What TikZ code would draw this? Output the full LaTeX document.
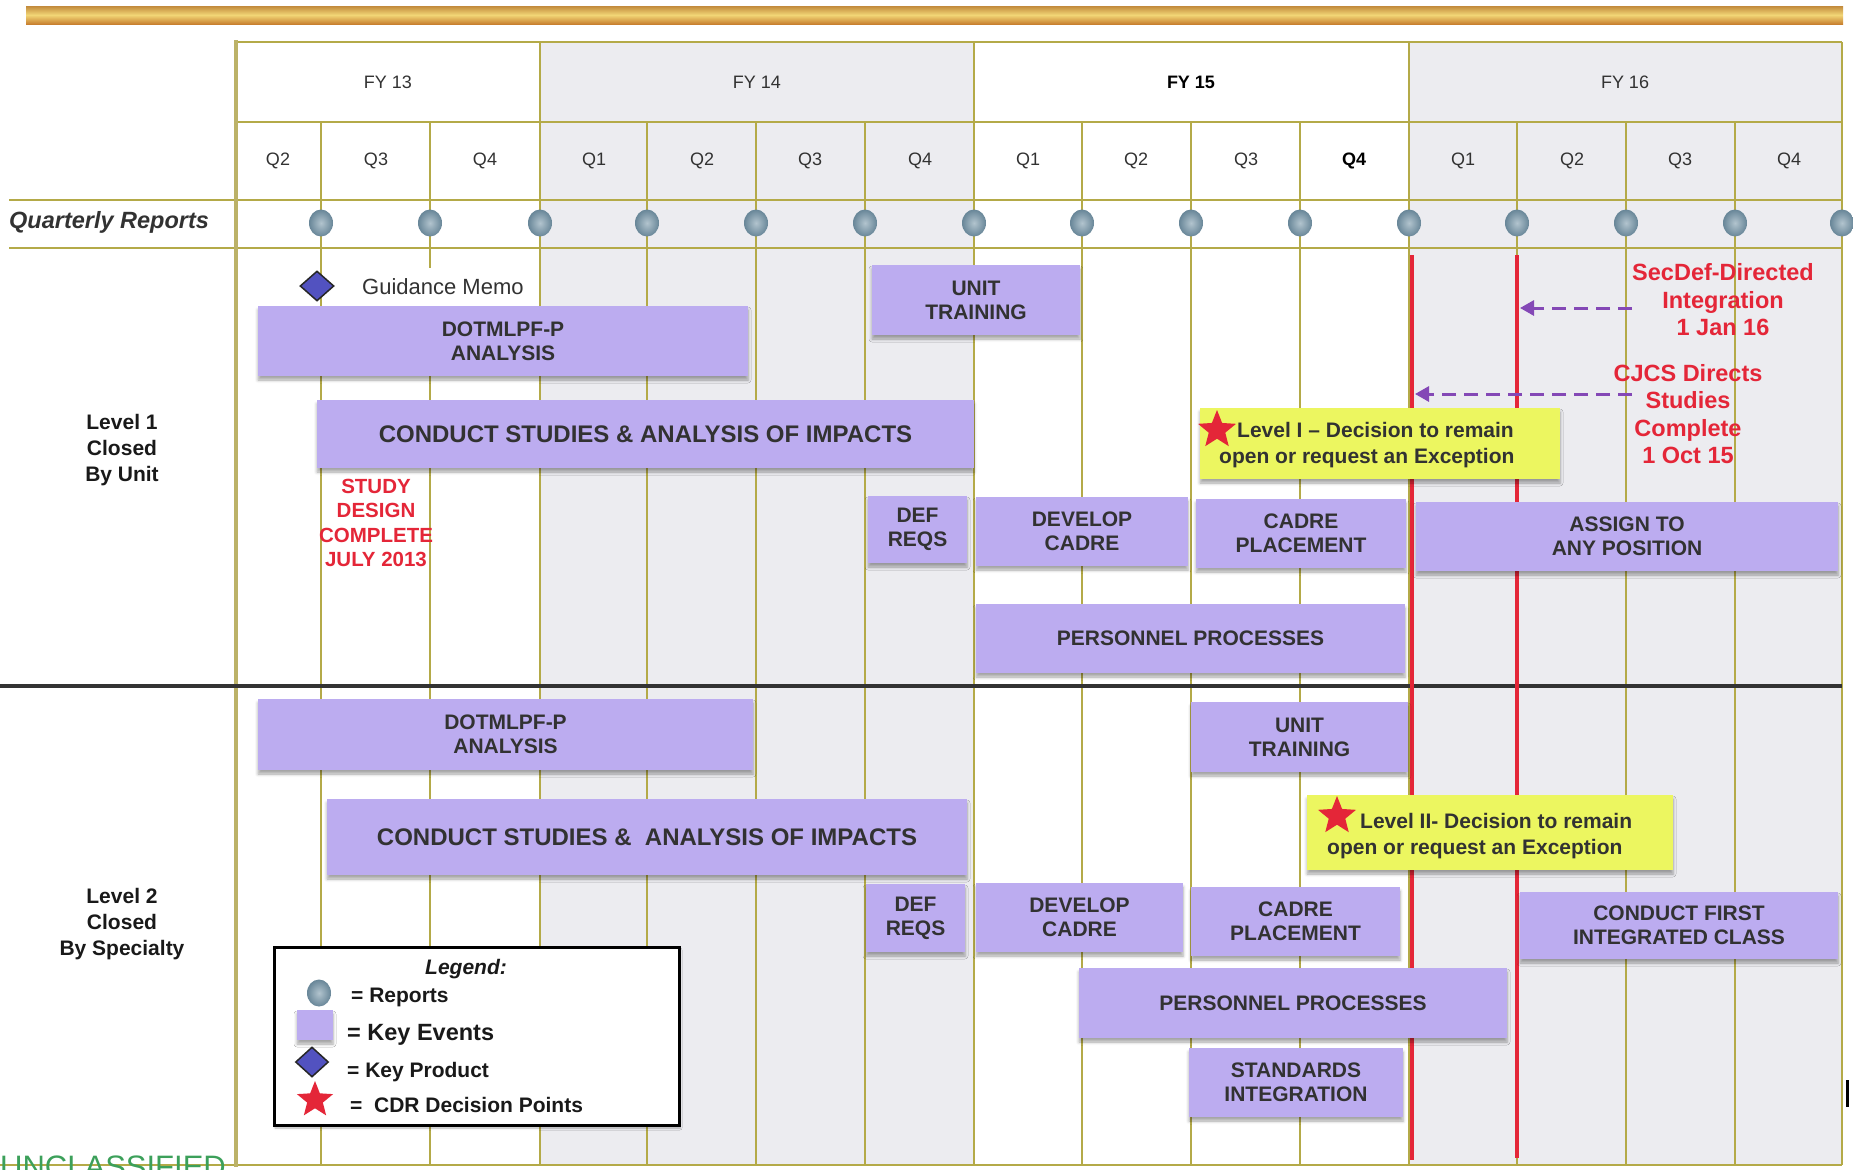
\documentclass[tikz,border=0pt]{standalone}
\usepackage{fontspec}
\setmainfont{Liberation Sans}
\usepackage{xcolor}
\usepackage{tikz}
\tikzset{every picture/.style={font issue=\fontsize{21}{24}},
         font issue/.style={execute at begin picture={#1\selectfont}}
        }
\usetikzlibrary{shadows.blur}
\usetikzlibrary{shapes.geometric}
\usetikzlibrary{arrows.meta}
\definecolor{lavender}{RGB}{188,172,240}
\definecolor{lime}{RGB}{236,246,96}
\definecolor{gridolive}{RGB}{180,170,72}
\definecolor{borderolive}{RGB}{188,178,104}
\definecolor{shadegray}{RGB}{236,236,240}
\definecolor{redline}{RGB}{228,38,56}
\definecolor{arrowpurple}{RGB}{132,72,182}
\definecolor{repinner}{RGB}{178,196,206}
\definecolor{repouter}{RGB}{104,134,152}
\definecolor{prodblue}{RGB}{82,82,192}
\definecolor{inktext}{RGB}{50,50,50}
\definecolor{greenmark}{RGB}{60,160,90}
\definecolor{goldtop}{RGB}{194,138,60}
\definecolor{goldmid}{RGB}{242,214,118}
\definecolor{goldbot}{RGB}{200,128,48}
\tikzstyle{event}=[fill=lavender,text=inktext,align=center,inner sep=0,font=\bfseries,
  blur shadow={shadow xshift=0pt,shadow yshift=-4pt,shadow blur radius=3pt,shadow opacity=35}]
\tikzstyle{decision}=[fill=lime,inner sep=0,
  blur shadow={shadow xshift=0pt,shadow yshift=-4pt,shadow blur radius=3pt,shadow opacity=35}]
\tikzstyle{dtext}=[text=inktext,align=left,inner sep=0,font=\fontsize{21}{26}\selectfont\bfseries]
\tikzstyle{cdr}=[star,star points=5,star point ratio=2.3,fill=redline,inner sep=0,minimum size=40pt]
\tikzstyle{product}=[diamond,fill=prodblue,draw=black!85,line width=1.5pt,inner sep=0,
  minimum width=34pt,minimum height=30pt]
\tikzstyle{report}=[ellipse,inner color=repinner,outer color=repouter,inner sep=0,
  minimum width=24pt,minimum height=27pt]
\tikzstyle{gridln}=[draw,gridolive,line width=2.2pt]
\tikzstyle{redln}=[draw,redline,line width=4pt]
\tikzstyle{pointer}=[>={Triangle[length=14pt,width=15pt]},draw,arrowpurple,line width=3pt,
  dash pattern=on 14pt off 8pt]
\tikzstyle{reddate}=[text=redline,align=center,inner sep=0,font=\fontsize{23.5}{27.5}\selectfont\bfseries]
\tikzstyle{level}=[text=black!90,align=center,inner sep=0,font=\fontsize{21}{26}\selectfont\bfseries]
\tikzstyle{head}=[text=inktext,inner sep=0,font=\fontsize{18}{20}\selectfont]
\tikzstyle{key}=[anchor=base west,text=black!90,inner sep=0,font=\bfseries]

\begin{document}
\begin{tikzpicture}[x=1pt,y=-1pt]
	\useasboundingbox (0,0) rectangle (1853,1170);
	\fill[shadegray] (540,42) rectangle (974,1165);
	\fill[shadegray] (1409,42) rectangle (1842,1165);
	\shade[top color=goldtop,bottom color=goldbot,middle color=goldmid] (26,6) rectangle (1843,24);
	
	% grid
	\path[gridln] (236,42) -- (1842,42);
	\path[gridln] (236,122) -- (1842,122);
	\path[gridln] (9,200) -- (1842,200);
	\path[gridln] (9,248) -- (1842,248);
	\path[gridln] (0,1165) -- (1842,1165);
	\foreach \x in {540,974,1409}
		\path[gridln] (\x,42) -- (\x,122);
	\foreach \x in {321,430,540,647,756,865,974,1082,1191,1300,1409,1517,1626,1735}
		\path[gridln] (\x,122) -- (\x,1165);
	\path[gridln,borderolive,line width=4.5pt] (236,40) -- (236,1167);
	\path[gridln] (1842,42) -- (1842,1165);
	
	\draw[black!80,line width=4.5pt] (0,686) -- (1842,686);
	\path[redln] (1412,255) -- (1412,1160);
	\path[redln] (1517,255) -- (1517,1158);
	
	\foreach \x [count=\i] in {321,430,540,647,756,865,974,1082,1191,1300,1409,1517,1626,1735,1842}
		\node[report] (rp\i) at (\x,223) {};
	
	% header
	\node[head] (fy13) at (388,82) {FY 13};
	\node[head] (fy14) at (757,82) {FY 14};
	\node[head,text=black,font=\fontsize{18}{20}\selectfont\bfseries] (fy15) at (1191,82) {FY 15};
	\node[head] (fy16) at (1625,82) {FY 16};
	\foreach \x/\q [count=\i] in {278/Q2,376/Q3,485/Q4,594/Q1,702/Q2,810/Q3,920/Q4,1028/Q1,
		1136/Q2,1246/Q3,1463/Q1,1572/Q2,1680/Q3,1789/Q4}
		\node[head] (q\i) at (\x,161) {\q};
	\node[head,text=black,font=\fontsize{18}{20}\selectfont\bfseries] (q15) at (1354,161) {Q4};
	
	\node[anchor=west,text=inktext,inner sep=0,font=\fontsize{23.5}{26}\selectfont\bfseries\itshape] (qr) at (9,222) {Quarterly Reports};
	\node[level] (lv1) at (122,450) {Level 1\\Closed\\By Unit};
	\node[level] (lv2) at (122,924) {Level 2\\Closed\\By Specialty};
	
	% level 1
	\node[product] (gd) at (317,286) {};
	\node[anchor=west,fill=white,minimum height=38pt,inner xsep=4pt,inner ysep=0,text=inktext,
		font=\fontsize{22}{24}\selectfont] (gm) at (358,287) {Guidance Memo};
	\node[event,minimum width=490pt,minimum height=70pt] (da1) at (503,341) {DOTMLPF-P\\ANALYSIS};
	\node[event,minimum width=208pt,minimum height=70pt] (ut1) at (976,300) {UNIT\\TRAINING};
	\node[event,minimum width=657pt,minimum height=68pt,font=\fontsize{24}{28}\selectfont\bfseries] (cs1) at (645.5,434) {CONDUCT STUDIES \& ANALYSIS OF IMPACTS};
	\node[event,minimum width=99pt,minimum height=67pt] (dr1) at (917.5,529.5) {DEF\\REQS};
	\node[event,minimum width=212pt,minimum height=69pt] (dc1) at (1082,531.5) {DEVELOP\\CADRE};
	\node[event,minimum width=210pt,minimum height=69pt] (cp1) at (1301,533.5) {CADRE\\PLACEMENT};
	\node[event,minimum width=422pt,minimum height=69pt] (ap1) at (1627,536.5) {ASSIGN TO\\ANY POSITION};
	\node[event,minimum width=429pt,minimum height=69pt] (pp1) at (1190.5,638.5) {PERSONNEL PROCESSES};
	\node[decision,minimum width=360pt,minimum height=71pt] (yl1) at (1380,443.5) {};
	\node[dtext,anchor=west] (yt1) at (1219,445) {\hspace*{18pt}Level I – Decision to remain\\open or request an Exception};
	\node[cdr] (st1) at (1217,430) {};
	
	\node[reddate,font=\fontsize{20.5}{24.5}\selectfont\bfseries] (sd) at (376,523) {STUDY\\DESIGN\\COMPLETE\\JULY 2013};
	\node[reddate] (sec) at (1723,300) {SecDef-Directed\\Integration\\1 Jan 16};
	\node[reddate] (cj) at (1688,414) {CJCS Directs\\Studies\\Complete\\1 Oct 15};
	\coordinate (secS) at (1632,308);
	\coordinate (secE) at (1520,308);
	\coordinate (cjS) at (1632,394);
	\coordinate (cjE) at (1415,394);
	\path[pointer,->] (secS) -- (secE);
	\path[pointer,->] (cjS) -- (cjE);
	
	% level 2
	\node[event,minimum width=495pt,minimum height=71pt] (da2) at (505.5,734.5) {DOTMLPF-P\\ANALYSIS};
	\node[event,minimum width=217pt,minimum height=70pt] (ut2) at (1299.5,737) {UNIT\\TRAINING};
	\node[event,minimum width=640pt,minimum height=76pt,font=\fontsize{24}{28}\selectfont\bfseries] (cs2) at (647,837) {CONDUCT STUDIES \&\ \ ANALYSIS OF IMPACTS};
	\node[event,minimum width=99pt,minimum height=68pt] (dr2) at (915.5,918) {DEF\\REQS};
	\node[event,minimum width=207pt,minimum height=69pt] (dc2) at (1079.5,917.5) {DEVELOP\\CADRE};
	\node[event,minimum width=209pt,minimum height=69pt] (cp2) at (1295.5,921.5) {CADRE\\PLACEMENT};
	\node[event,minimum width=318pt,minimum height=67pt] (cf2) at (1679,925.5) {CONDUCT FIRST\\INTEGRATED CLASS};
	\node[event,minimum width=428pt,minimum height=70pt] (pp2) at (1293,1003) {PERSONNEL PROCESSES};
	\node[event,minimum width=214pt,minimum height=69pt] (si2) at (1296,1082.5) {STANDARDS\\INTEGRATION};
	\node[decision,minimum width=366pt,minimum height=75pt] (yl2) at (1490,832.5) {};
	\node[dtext,anchor=west] (yt2) at (1327,836) {\hspace*{33pt}Level II- Decision to remain\\open or request an Exception};
	\node[cdr] (st2) at (1337,816) {};
	
	% legend
	\node[draw=black,line width=3pt,fill=white,minimum width=405pt,minimum height=178pt,
		blur shadow={shadow xshift=1pt,shadow yshift=-3pt,shadow blur radius=2pt,shadow opacity=30}] (lg) at (476.5,1036) {};
	\node[anchor=base,text=black!90,inner sep=0,font=\bfseries\itshape] (lgt) at (466,974) {Legend:};
	\node[report] (lr) at (319,993) {};
	\node[key] (lrt) at (351,1002) {= Reports};
	\node[event,minimum width=36pt,minimum height=30pt] (le) at (315,1025) {};
	\node[key,font=\fontsize{23.5}{26}\selectfont\bfseries] (let) at (347,1040) {= Key Events};
	\node[product,minimum width=33pt] (lp) at (312,1062) {};
	\node[key] (lpt) at (347,1077) {= Key Product};
	\node[cdr,minimum size=38pt] (ls) at (315,1100) {};
	\node[key] (lst) at (350,1112) {=\ \ CDR Decision Points};
	
	\node[anchor=base west,text=greenmark,inner sep=0,font=\fontsize{31}{31}\selectfont] (uc) at (0,1177) {UNCLASSIFIED};
	\draw[black,line width=3pt] (1847,1080) -- (1847,1107);
\end{tikzpicture}
\end{document}
